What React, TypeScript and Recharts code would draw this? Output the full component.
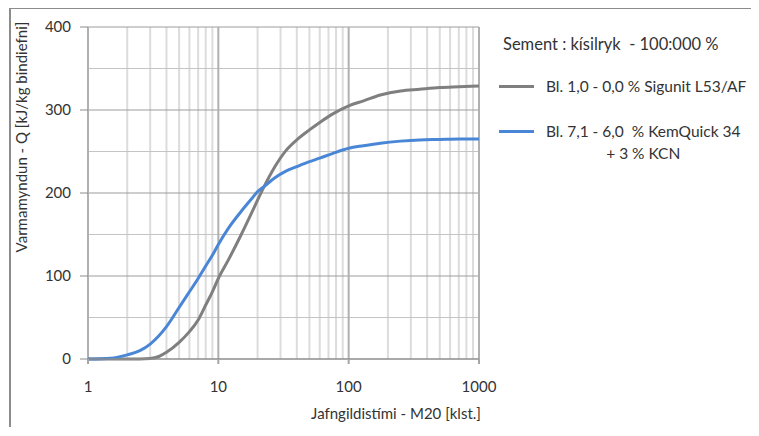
import React from 'react';
import { LineChart, Line, XAxis, YAxis, ReferenceLine } from 'recharts';

// equivalent age in hours (log axis)
const hours = [1, 1.5, 2, 2.5, 3, 3.5, 4, 5, 6, 7, 8, 9, 10, 12, 15, 18, 20, 22, 27, 33, 40, 50, 60, 75, 100, 130, 175, 250, 350, 500, 700, 1000];
const sigunit = [0, 0, 0, 0, 0.5, 3, 8, 20, 33, 47, 65, 81, 97, 120, 150, 176, 191.5, 205, 231, 251, 264, 276, 285, 295, 305, 311, 318, 323, 325, 327, 328, 329];
const kemQuick = [0, 1, 5, 10, 18, 28, 39, 62, 81, 97, 112, 125, 138, 158, 178, 193, 201.6, 206.7, 218, 226.3, 231.7, 237.7, 242, 247.5, 254, 257, 260, 262.5, 264, 264.5, 265, 265];

const xTicks = [1, 10, 100, 1000];
const xMinor = [2, 3, 4, 5, 6, 7, 8, 9, 20, 30, 40, 50, 60, 70, 80, 90, 200, 300, 400, 500, 600, 700, 800, 900];
const yTicks = [0, 100, 200, 300, 400];
const yMinor = [50, 150, 250, 350];

const legendTitle = 'Sement : kísilryk  - 100:000 %';
const seriesNames = ['Bl. 1,0 - 0,0 % Sigunit L53/AF', 'Bl. 7,1 - 6,0  % KemQuick 34\n+ 3 % KCN'];
const seriesColors = ['#7f7f7f', '#4a86d6'];
const xTitle = 'Jafngildistími - M20 [klst.]';
const yTitle = 'Varmamyndun - Q [kJ/kg bindiefni]';

const data = hours.map((h, i) => ({ h, a: sigunit[i], b: kemQuick[i] }));

const FONT = 'Lato, "Open Sans", sans-serif';
const TEXT = '#333';

const LegendBox = () => (
  <div style={{ position: 'absolute', left: 478, top: 0, fontFamily: FONT, color: TEXT }}>
    <div style={{ marginTop: 25, height: 20, lineHeight: '20px', fontSize: 16.5, whiteSpace: 'pre', marginLeft: 14 }}>{legendTitle}</div>
    {seriesNames.map((name, i) => (
      <div key={i} style={{ display: 'flex', alignItems: 'flex-start', marginTop: i === 0 ? 21 : 23 }}>
        <div style={{ width: 35, height: 3, background: seriesColors[i], marginTop: 10, marginLeft: 10 }} />
        <div style={{ marginLeft: 12, fontSize: 15.5, lineHeight: '22px', whiteSpace: 'pre', textAlign: 'center' }}>{name}</div>
      </div>
    ))}
  </div>
);

export default function App() {
  return (
    <div style={{ position: 'relative', marginTop: -1, marginLeft: 1, borderTop: '2px solid #8c8c8c', borderLeft: '2px solid #8c8c8c', width: 745, height: 418, background: '#fff' }}>
      <LineChart width={745} height={418} data={data} margin={{ top: 18, right: 277, left: 0, bottom: 8 }}>
        <XAxis
          dataKey="h"
          type="number"
          scale="log"
          domain={[1, 1000]}
          ticks={xTicks}
          allowDataOverflow
          height={60}
          axisLine={{ stroke: '#8c8c8c', strokeWidth: 1.5 }}
          tickLine={{ stroke: '#a6a6a6', strokeWidth: 2 }}
          tickSize={5}
          tickMargin={17}
          tick={{ fill: TEXT, fontSize: 15, fontFamily: FONT }}
          label={({ viewBox }: any) => (
            <text x={viewBox.x + 308} y={viewBox.y + 60} textAnchor="middle" fill={TEXT} fontSize={15} fontFamily={FONT}>{xTitle}</text>
          )}
        />
        <YAxis
          type="number"
          domain={[0, 400]}
          ticks={yTicks}
          width={77}
          axisLine={false}
          tickLine={{ stroke: '#8c8c8c' }}
          tickSize={8}
          tickMargin={9}
          tick={{ fill: TEXT, fontSize: 15, fontFamily: FONT }}
          label={({ viewBox }: any) => (
            <text x={0} y={0} transform={`translate(${viewBox.x + 16}, 128) rotate(-90)`} textAnchor="middle" fill={TEXT} fontSize={15} fontFamily={FONT}>{yTitle}</text>
          )}
        />
        {xMinor.map((v) => (
          <ReferenceLine key={'xm' + v} x={v} stroke="#dcdcdc" strokeWidth={2} />
        ))}
        {yMinor.map((v) => (
          <ReferenceLine key={'ym' + v} y={v} stroke="#c4c4c4" strokeWidth={1} />
        ))}
        {yTicks.slice(1).map((v) => (
          <ReferenceLine key={'yM' + v} y={v} stroke="#9c9c9c" strokeWidth={1} />
        ))}
        {xTicks.map((v) => (
          <ReferenceLine key={'xM' + v} x={v} stroke="#b0b0b0" strokeWidth={2} />
        ))}
        <Line dataKey="a" name={seriesNames[0]} stroke={seriesColors[0]} strokeWidth={3} dot={false} type="monotone" isAnimationActive={false} />
        <Line dataKey="b" name={seriesNames[1]} stroke={seriesColors[1]} strokeWidth={3} dot={false} type="monotone" isAnimationActive={false} />
      </LineChart>
      <LegendBox />
    </div>
  );
}
